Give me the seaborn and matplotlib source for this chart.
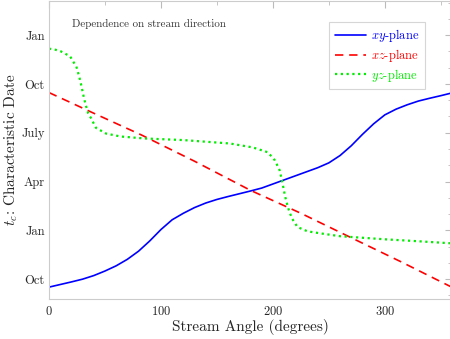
import matplotlib
matplotlib.use("Agg")
import matplotlib.pyplot as plt
import numpy as np
import pandas as pd
import seaborn as sns
from matplotlib.ticker import MultipleLocator

# months counted from the October at the bottom of the axis (Oct = 0)
xy_angle = [0, 10, 20, 30, 40, 50, 60, 70, 80, 90, 100, 110, 120, 130, 140,
            150, 160, 170, 180, 190, 200, 210, 220, 230, 240, 250, 260, 270,
            280, 290, 300, 310, 320, 330, 340, 350, 360]
xy_date = [-0.49, -0.33, -0.17, 0.0, 0.22, 0.5, 0.82, 1.22, 1.72, 2.35, 3.05,
           3.65, 4.05, 4.4, 4.68, 4.9, 5.08, 5.25, 5.42, 5.6, 5.85, 6.1, 6.35,
           6.6, 6.85, 7.15, 7.6, 8.2, 8.9, 9.55, 10.1, 10.45, 10.72, 10.95,
           11.12, 11.28, 11.45]

xz_angle = [0, 40, 83, 130, 180, 225, 269, 315, 360]
xz_date = [11.47, 10.2, 8.85, 7.25, 5.46, 4.05, 2.58, 1.05, -0.5]

yz_angle = [0, 6, 10.7, 18.8, 22.3, 24.4, 27, 28.9, 30.4, 32.4, 35, 37.5, 42,
            51, 64, 85, 120, 161.6, 182, 195.5, 201.8, 206, 209, 210.7, 212.5,
            214.3, 217, 222, 231, 242, 260, 300, 330, 360]
yz_date = [14.17, 14.1, 14.0, 13.7, 13.3, 13.07, 12.45, 11.9, 11.4, 10.8, 10.2,
           9.9, 9.3, 8.95, 8.77, 8.65, 8.55, 8.34, 8.1, 7.8, 7.3, 6.7, 5.77,
           5.15, 4.66, 4.23, 3.74, 3.2, 2.94, 2.82, 2.64, 2.45, 2.33, 2.2]

tick_pos = [0, 3, 6, 9, 12, 15]
tick_labels = ["Oct", "Jan", "Apr", "July", "Oct", "Jan"]

sns.set_style("white")
plt.rcParams["font.family"] = ["cmr10", "DejaVu Serif"]
plt.rcParams["mathtext.fontset"] = "cm"
plt.rcParams["axes.formatter.use_mathtext"] = True

fig = plt.figure(figsize=(4.5, 3.39), dpi=100)
ax = fig.add_axes([49 / 450, 40 / 339, 403 / 450, 298 / 339])

sns.lineplot(x=xy_angle, y=xy_date, ax=ax, color="#0000ff", lw=1.2,
             label="$xy$-plane")
sns.lineplot(x=xz_angle, y=xz_date, ax=ax, color="#ff0000", lw=1.2,
             label="$xz$-plane")
sns.lineplot(x=yz_angle, y=yz_date, ax=ax, color="#00ee00", lw=1.6,
             label="$yz$-plane")
ax.lines[1].set_dashes([5, 3.5])
ax.lines[2].set_dashes([1, 1.6])

ax.set_xlim(0, 360)
ax.set_ylim(-1.22, 17.1)
ax.set_xticks([0, 100, 200, 300])
ax.xaxis.set_minor_locator(MultipleLocator(50))
ax.set_yticks(tick_pos)
ax.set_yticklabels(tick_labels)
ax.yaxis.set_minor_locator(MultipleLocator(1))
ax.tick_params(which="both", direction="in", top=True, right=True,
               color="#bbbbbb", labelsize=9, pad=4)
ax.tick_params(axis="y", pad=3)
ax.tick_params(which="major", length=5)
ax.tick_params(which="minor", length=3)
for s in ax.spines.values():
    s.set_color("#cccccc")
    s.set_linewidth(0.8)

ax.set_xlabel("Stream Angle (degrees)", fontsize=11, labelpad=1)
ax.set_ylabel("$t_c$: Characteristic Date", fontsize=11, labelpad=1)
ax.text(0.057, 0.912, "Dependence on stream direction", transform=ax.transAxes,
        fontsize=7.9, color="#333333")

leg = ax.legend(loc="upper right", bbox_to_anchor=(0.948, 0.952), fontsize=9,
                frameon=True, fancybox=False, handlelength=2.5, borderpad=0.45,
                labelspacing=0.22, handletextpad=0.4)
leg.get_frame().set_edgecolor("#cccccc")
leg.get_frame().set_linewidth(0.8)
for t, l in zip(leg.get_texts(), leg.get_lines()):
    t.set_color(l.get_color())

fig.savefig("out.png", dpi=100)
